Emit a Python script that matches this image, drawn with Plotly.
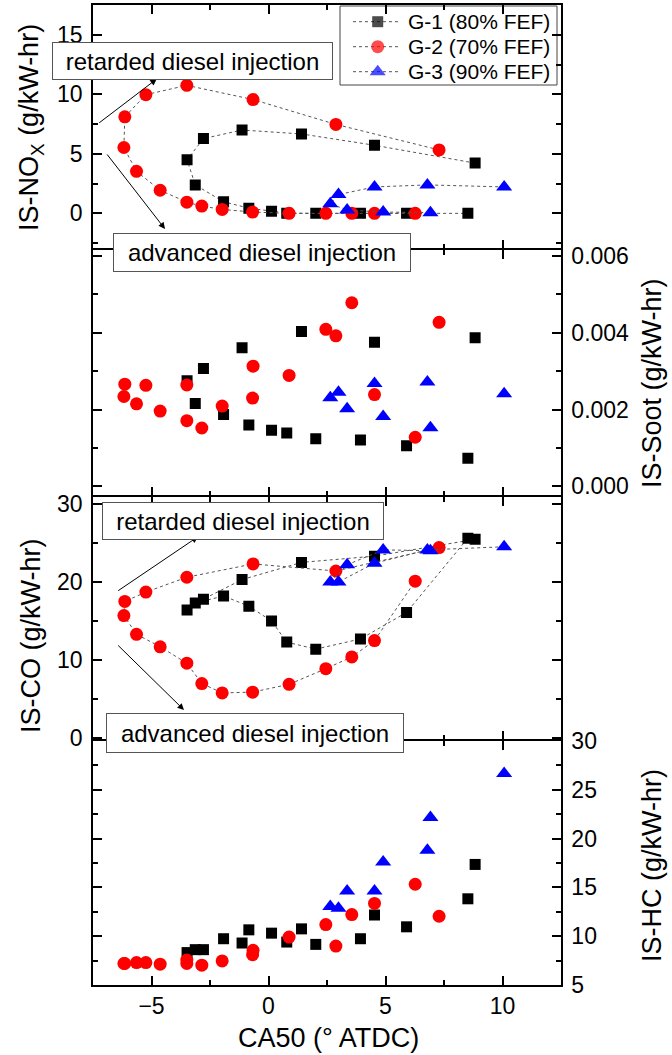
import plotly.graph_objects as go

# ---------------- data ----------------
# G-1 (80% FEF)
g1_ca50 = [8.83, 4.53, 1.41, -1.13, -2.78, -3.48, -3.13, -1.92, -0.84, 0.13, 0.78, 2.02, 3.93, 5.90, 8.52]
g1_nox = [4.22, 5.72, 6.67, 7.0, 6.28, 4.5, 2.39, 0.97, 0.44, 0.17, 0.02, 0.0, 0.0, 0.0, 0.0]
g1_soot = [0.00387, 0.00375, 0.00403, 0.00361, 0.00307, 0.00275, 0.00216, 0.00187, 0.00160, 0.00146,
           0.00139, 0.00124, 0.00121, 0.00106, 0.00073]
g1_co = [25.45, 23.3, 22.5, 20.3, 17.8, 16.4, 17.3, 18.2, 16.9, 15.0, 12.3, 11.4, 12.7, 16.1, 25.6]
g1_hc = [17.35, 12.17, 10.75, 9.30, 8.62, 8.32, 8.62, 9.74, 10.65, 10.31, 9.40, 9.16, 9.74, 10.96, 13.83]

# G-2 (70% FEF)
g2_ca50 = [7.29, 2.88, -0.66, -3.49, -5.24, -6.14, -6.18, -5.64, -4.63, -3.49, -2.85, -1.98, -0.68,
           0.88, 2.45, 3.56, 4.53, 6.27]
g2_nox = [5.33, 7.47, 9.56, 10.75, 9.97, 8.11, 5.53, 3.53, 1.94, 0.94, 0.61, 0.33, 0.11,
          0.0, 0.0, 0.0, 0.0, 0.0]
g2_soot = [0.00427, 0.00392, 0.00313, 0.00264, 0.00263, 0.00266, 0.00234, 0.00215, 0.00196, 0.00171,
           0.00152, 0.00209, 0.00230, 0.00289, 0.00409, 0.00478, 0.00239, 0.00128]
g2_co = [24.4, 21.4, 22.3, 20.6, 18.7, 17.5, 15.7, 13.3, 11.7, 9.6, 7.0, 5.8, 5.9,
         6.9, 8.9, 10.4, 12.5, 20.1]
g2_hc = [12.04, 8.99, 8.55, 7.55, 7.30, 7.20, 7.20, 7.30, 7.13, 7.20, 7.03, 7.47, 8.11,
         9.91, 11.19, 12.21, 13.36, 15.32]

# G-3 (90% FEF)
g3_ca50 = [10.07, 6.79, 4.53, 2.99, 2.64, 3.36, 4.90, 6.92]
g3_nox = [2.22, 2.39, 2.22, 1.58, 0.81, 0.28, 0.11, 0.06]
g3_soot = [0.00241, 0.00272, 0.00268, 0.00245, 0.00231, 0.00202, 0.00182, 0.00153]
g3_co = [24.5, 24.1, 22.4, 20.0, 20.0, 22.2, 24.1, 24.0]
g3_hc = [26.66, 18.81, 14.64, 12.85, 13.05, 14.64, 17.59, 22.16]

series_names = ["G-1 (80% FEF)", "G-2 (70% FEF)", "G-3 (90% FEF)"]

# ---------------- layout helpers ----------------
W, H = 672, 1055
ML, MR, MT, MB = 93, 111, 5, 70
PW = W - ML - MR
PH = H - MT - MB
FONT = "Liberation Sans, Arial, sans-serif"
LW = 1.5


def px(x):
    return (x - ML) / PW


def py(y):
    return (H - MB - y) / PH


groups = [
    dict(name=series_names[0], x=g1_ca50, nox=g1_nox, soot=g1_soot, co=g1_co, hc=g1_hc,
         color="#000000", symbol="square", size=11),
    dict(name=series_names[1], x=g2_ca50, nox=g2_nox, soot=g2_soot, co=g2_co, hc=g2_hc,
         color="#ff0000", symbol="circle", size=13),
    dict(name=series_names[2], x=g3_ca50, nox=g3_nox, soot=g3_soot, co=g3_co, hc=g3_hc,
         color="#0000ff", symbol="triangle-up", size=14),
]

LINE = dict(color="#555555", dash="dot", width=1)

fig = go.Figure()
panels = [("nox", "x", "y", "lines+markers"),
          ("soot", "x2", "y2", "markers"),
          ("co", "x3", "y3", "lines+markers"),
          ("hc", "x4", "y4", "markers")]

for key, xa, ya, mode in panels:
    for g in groups:
        fig.add_trace(go.Scatter(
            x=g["x"], y=g[key], mode=mode, name=g["name"], showlegend=False,
            xaxis=xa, yaxis=ya, line=LINE,
            marker=dict(color=g["color"], symbol=g["symbol"], size=g["size"], line=dict(width=0)),
        ))

# manual legend (pixel-coordinate overlay axes)
leg_rows = [21.7, 46.7, 71.7]
for g, ry in zip(groups, leg_rows):
    fig.add_trace(go.Scatter(
        x=[353, 377.7, 401], y=[ry, ry, ry], mode="lines+markers", showlegend=False,
        xaxis="x5", yaxis="y5", line=LINE, hoverinfo="skip",
        marker=dict(color=g["color"], symbol=g["symbol"], size=[0, g["size"], 0], line=dict(width=0)),
    ))

MINOR = dict(ticks="inside", ticklen=5, tickwidth=LW, tickcolor="black")
common_x = dict(range=[-7.5, 12.5], showgrid=False, zeroline=False, showline=True, automargin=False,
                linecolor="black", linewidth=LW, mirror="ticks", ticks="inside",
                ticklen=9, tickwidth=LW, tickcolor="black", dtick=5, tick0=0,
                minor=dict(MINOR, dtick=2.5),
                tickfont=dict(size=23, family=FONT, color="black"), domain=[0, 1])

common_y = dict(showgrid=False, zeroline=False, showline=True, linecolor="black", linewidth=LW,
                automargin=False, mirror="ticks", ticks="inside", ticklen=9, tickwidth=LW,
                tickcolor="black", tickfont=dict(size=23, family=FONT, color="black"),
                ticklabelstandoff=4)

# panel boundaries (pixels); a small gap so that adjoining frame lines coincide
B12, B23, B34 = 249, 496, 740
h = LW / 2
d1 = [py(B12 - h), 1.0]
d2 = [py(B23 - h), py(B12 + h)]
d3 = [py(B34 - h), py(B23 + h)]
d4 = [0.0, py(B34 + h)]

fig.update_layout(
    width=W, height=H,
    margin=dict(l=ML, r=MR, t=MT, b=MB, autoexpand=False),
    paper_bgcolor="white", plot_bgcolor="rgba(0,0,0,0)",
    font=dict(family=FONT, color="black"),
    showlegend=False,
    xaxis=dict(common_x, anchor="y", showticklabels=False),
    xaxis2=dict(common_x, anchor="y2", showticklabels=False, matches="x"),
    xaxis3=dict(common_x, anchor="y3", showticklabels=False, matches="x"),
    xaxis4=dict(common_x, anchor="y4", showticklabels=True, matches="x"),
    yaxis=dict(common_y, domain=d1, anchor="x", side="left", range=[-2.93, 17.5], dtick=5, tick0=0,
               minor=dict(MINOR, dtick=2.5)),
    yaxis2=dict(common_y, domain=d2, anchor="x2", side="right", range=[-0.00023, 0.00616],
                dtick=0.002, tick0=0, tickformat=".3f", minor=dict(MINOR, dtick=0.001)),
    yaxis3=dict(common_y, domain=d3, anchor="x3", side="left", range=[-0.13, 30.9], dtick=10, tick0=0,
                minor=dict(MINOR, dtick=5)),
    yaxis4=dict(common_y, domain=d4, anchor="x4", side="right", range=[5, 30.02], dtick=5, tick0=0,
                minor=dict(MINOR, dtick=2.5)),
    xaxis5=dict(domain=[0, 1], anchor="y5", range=[ML, W - MR], visible=False, fixedrange=True,
                automargin=False),
    yaxis5=dict(domain=[0, 1], anchor="x5", range=[H - MB, MT], visible=False, fixedrange=True,
                automargin=False),
)

shapes = [dict(type="rect", xref="paper", yref="paper", x0=px(340), x1=px(557), y0=py(85), y1=py(6),
               line=dict(color="#444444", width=1), fillcolor="white", layer="below")]

annotations = []
for name, ry in zip(series_names, leg_rows):
    annotations.append(dict(text=name, xref="paper", yref="paper", x=px(406), y=py(ry),
                            xanchor="left", yanchor="middle", showarrow=False,
                            font=dict(size=21, family=FONT, color="black")))


def box(text, x0, x1, y0, y1):
    annotations.append(dict(text=text, xref="paper", yref="paper", x=px((x0 + x1) / 2),
                            y=py((y0 + y1) / 2), xanchor="center", yanchor="middle",
                            showarrow=False, font=dict(size=24, family=FONT, color="black"),
                            bgcolor="white", bordercolor="#555555", borderwidth=1, borderpad=0,
                            width=x1 - x0 - 2, height=y1 - y0 - 2))


def arrow(xt, yt, xh, yh):
    annotations.append(dict(text="", xref="paper", yref="paper", x=px(xh), y=py(yh),
                            ax=xt - xh, ay=yt - yh, showarrow=True, arrowhead=2, arrowsize=1.3,
                            arrowwidth=1, arrowcolor="black", standoff=0, startstandoff=0))


arrow(97.7, 124, 156.7, 79)
arrow(106, 153, 165, 229)
arrow(116.7, 591.7, 198, 536.7)
arrow(116.7, 644, 184, 710)
box("retarded diesel injection", 52, 333, 42, 80)
box("advanced diesel injection", 113, 411, 233, 272)
box("retarded diesel injection", 102, 384, 502, 540)
box("advanced diesel injection", 106, 404, 713, 753)


def ytitle(text, x, y):
    annotations.append(dict(text=text, xref="paper", yref="paper", x=px(x), y=py(y),
                            xanchor="center", yanchor="middle", textangle=-90, showarrow=False,
                            font=dict(size=27, family=FONT, color="black")))


ytitle("IS-NO<sub>X</sub> (g/kW-hr)", 31, 128)
ytitle("IS-Soot (g/kW-hr)", 652, 383)
ytitle("IS-CO (g/kW-hr)", 31, 636)
ytitle("IS-HC (g/kW-hr)", 652, 866)

annotations.append(dict(text="CA50 (° ATDC)", xref="paper", yref="paper", x=px(328), y=py(1038),
                        xanchor="center", yanchor="middle", showarrow=False,
                        font=dict(size=27, family=FONT, color="black")))

fig.update_layout(annotations=annotations, shapes=shapes)

fig.write_html("out.html")
